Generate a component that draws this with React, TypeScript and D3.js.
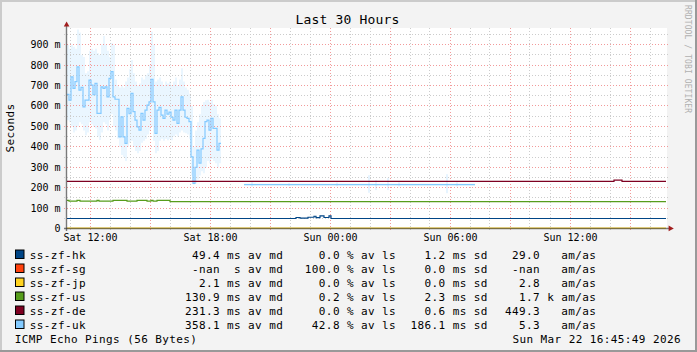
import React from 'react';
import * as d3 from 'd3';

const W = 697;
const H = 352;

const parse = d3.timeParse('%Y-%m-%dT%H:%M');
const START = '2026-03-21T10:51';
const END = '2026-03-22T16:51';
const SERIES_END = '2026-03-22T16:48';

const yMajor = [100, 200, 300, 400, 500, 600, 700, 800, 900];
const yMinor = [50, 150, 250, 350, 450, 550, 650, 750, 850, 950];
const yLabelValues = [0, 100, 200, 300, 400, 500, 600, 700, 800, 900];
const yLabels = ['0', '100 m', '200 m', '300 m', '400 m', '500 m', '600 m', '700 m', '800 m', '900 m'];
const xTickTimes = ['2026-03-21T12:00', '2026-03-21T18:00', '2026-03-22T00:00', '2026-03-22T06:00', '2026-03-22T12:00'];
const xTickLabels = ['Sat 12:00', 'Sat 18:00', 'Sun 00:00', 'Sun 06:00', 'Sun 12:00'];

// ss-zf-uk, first block: medians every 6 minutes (ms)
const ukAStart = '2026-03-21T10:51';
const ukAStepMin = 6;
const ukAMedian = [657, 629, 743, 686, 719, 792, 678, 691, 596, 629, 629, 727, 702, 655, 711, 564, 564, 694, 686, 694,
  645, 735, 768, 645, 633, 633, 449, 547, 449, 417, 588, 562, 662, 572, 531, 498, 482, 564, 531, 580,
  604, 620, 730, 620, 466, 580, 593, 555, 539, 580, 560, 570, 545, 531, 580, 515, 580, 645, 580, 545,
  539, 523, 351, 221, 300, 384, 320, 390, 441, 523, 531, 482, 539, 490, 490, 384, 417];
const ukASmokeHi = [900, 880, 900, 890, 880, 975, 960, 850, 840, 760, 770, 870, 880, 870, 880, 860, 850, 900, 943, 900,
  870, 840, 908, 900, 730, 700, 690, 700, 690, 720, 740, 780, 825, 760, 720, 700, 710, 740, 730, 750,
  760, 800, 965, 900, 720, 730, 740, 720, 700, 720, 710, 720, 700, 720, 740, 700, 730, 785, 720, 690,
  680, 660, 600, 400, 480, 520, 560, 600, 620, 628, 630, 620, 630, 610, 600, 560, 540];
const ukASmokeLo = [530, 520, 500, 470, 480, 500, 520, 510, 480, 457, 470, 520, 510, 500, 490, 450, 433, 470, 520, 510,
  480, 530, 560, 500, 480, 440, 400, 360, 350, 330, 400, 420, 430, 400, 380, 368, 380, 420, 430, 440,
  460, 480, 500, 430, 368, 380, 430, 440, 430, 440, 432, 440, 432, 450, 460, 450, 470, 480, 470, 466,
  460, 440, 260, 215, 221, 240, 260, 280, 270, 300, 330, 320, 340, 330, 320, 300, 320];

// ss-zf-uk, second block
const ukBStart = '2026-03-21T19:42';
const ukBEnd = '2026-03-22T07:15';
const ukBMedian = 215;
const ukBBand = [211, 220];
const ukBSpikeTimes = ['2026-03-21T20:03', '2026-03-21T21:54', '2026-03-22T00:18', '2026-03-22T01:54', '2026-03-22T02:15',
  '2026-03-22T02:51', '2026-03-22T03:24', '2026-03-22T05:48', '2026-03-22T06:18'];
const ukBSpikeLo = [205, 208, 207, 175, 188, 188, 206, 173, 206];
const ukBSpikeHi = [228, 222, 225, 261, 237, 247, 226, 266, 226];

const hkSteps: [string, number][] = [
  ['2026-03-21T10:51', 49], ['2026-03-21T22:18', 54], ['2026-03-21T22:30', 51], ['2026-03-21T22:54', 55],
  ['2026-03-21T23:12', 60], ['2026-03-21T23:18', 53], ['2026-03-21T23:30', 62], ['2026-03-21T23:42', 54],
  ['2026-03-21T23:57', 62], ['2026-03-22T00:03', 49]];
const usSteps: [string, number][] = [
  ['2026-03-21T10:51', 138], ['2026-03-21T10:57', 134], ['2026-03-21T11:21', 138], ['2026-03-21T11:30', 134],
  ['2026-03-21T12:21', 138], ['2026-03-21T12:27', 134], ['2026-03-21T13:09', 138], ['2026-03-21T13:51', 134],
  ['2026-03-21T14:21', 138], ['2026-03-21T14:51', 134], ['2026-03-21T15:03', 138], ['2026-03-21T15:09', 134],
  ['2026-03-21T15:21', 138], ['2026-03-21T16:00', 131.5]];
const deSteps: [string, number][] = [['2026-03-21T10:51', 231], ['2026-03-22T14:12', 237], ['2026-03-22T14:36', 231]];
const jpSteps: [string, number][] = [['2026-03-21T10:51', 2.1]];

const hostNames = ['ss-zf-hk', 'ss-zf-sg', 'ss-zf-jp', 'ss-zf-us', 'ss-zf-de', 'ss-zf-uk'];
const hostColors = ['#004586', '#ff420e', '#ffd320', '#579d1c', '#7e0021', '#83caff'];
const avMedian = ['49.4', '-nan', '2.1', '130.9', '231.3', '358.1'];
const avMedianPrefix = ['m', ' ', 'm', 'm', 'm', 'm'];
const avLoss = ['0.0', '100.0', '0.0', '0.2', '0.0', '42.8'];
const avSd = ['1.2', '0.0', '0.0', '2.3', '0.6', '186.1'];
const amas = ['29.0', '-nan', '2.8', '1.7', '449.3', '5.3'];
const amasPrefix = [' ', ' ', ' ', 'k', ' ', ' '];

const MONO = '"DejaVu Sans Mono", monospace';

export default function App() {
  const t0 = parse(START)!;
  const t1 = parse(END)!;
  const x = d3.scaleTime().domain([t0, t1]).range([67, 667]);
  const y = d3.scaleLinear().domain([0, 982]).range([228.5, 28]);
  const addMin = (d: Date, m: number) => new Date(d.getTime() + m * 60000);
  const crisp = (v: number) => Math.floor(v) + 0.5;

  type P = { t: Date; v: number; hi?: number; lo?: number };
  const line = d3.line<P>().x(d => x(d.t)).y(d => y(d.v)).curve(d3.curveStepAfter);
  const area = d3.area<P>().x(d => x(d.t)).y0(d => y(d.lo!)).y1(d => y(d.hi!)).curve(d3.curveStepAfter);

  const ukStart = parse(ukAStart)!;
  const ukA: P[] = ukAMedian.map((v, i) => ({ t: addMin(ukStart, i * ukAStepMin), v, hi: ukASmokeHi[i], lo: ukASmokeLo[i] }));
  const lastA = ukA[ukA.length - 1];
  ukA.push({ ...lastA, t: addMin(ukStart, ukAMedian.length * ukAStepMin) });

  const bS = parse(ukBStart)!;
  const bE = parse(ukBEnd)!;
  const ukB: P[] = [{ t: bS, v: ukBMedian, lo: ukBBand[0], hi: ukBBand[1] }, { t: bE, v: ukBMedian, lo: ukBBand[0], hi: ukBBand[1] }];

  const stepPts = (steps: [string, number][]): P[] => {
    const pts = steps.map(([t, v]) => ({ t: parse(t)!, v }));
    pts.push({ t: parse(SERIES_END)!, v: steps[steps.length - 1][1] });
    return pts;
  };

  const hours = d3.timeHour.range(addMin(t0, 1), t1);

  const legendY0 = 258.5;
  const rowH = 14;
  const legStyle: React.CSSProperties = { fontFamily: MONO, fontSize: 11, letterSpacing: 0.4, whiteSpace: 'pre' };
  const minorC = '#cccccc';
  const majorC = '#f29a9a';

  return (
    <svg width={W} height={H} style={{ position: 'absolute', left: 0, top: 0 }} xmlns="http://www.w3.org/2000/svg">
      <rect x={0} y={0} width={W} height={H} fill="#f3f3f3" />
      <rect x={0} y={0} width={W} height={2} fill="#cbcbcb" />
      <rect x={0} y={0} width={2} height={H} fill="#cbcbcb" />
      <rect x={0} y={H - 2} width={W} height={2} fill="#999999" />
      <rect x={W - 2} y={0} width={2} height={H} fill="#999999" />

      <rect x={67} y={28} width={600} height={200.5} fill="#ffffff" />

      {/* smoke */}
      <path d={area(ukA)!} fill="#83caff" fillOpacity={0.17} />
      <path d={area(ukB)!} fill="#83caff" fillOpacity={0.12} />
      {ukBSpikeTimes.map((ts, i) => {
        const t = parse(ts)!;
        return <rect key={ts} x={x(t)} width={x(addMin(t, ukAStepMin)) - x(t)} y={y(ukBSpikeHi[i])} height={y(ukBSpikeLo[i]) - y(ukBSpikeHi[i])} fill="#83caff" fillOpacity={0.2} />;
      })}

      {/* grid */}
      {yMinor.map(v => (
        <line key={'ym' + v} x1={64} x2={669} y1={crisp(y(v))} y2={crisp(y(v))} stroke={minorC} strokeDasharray="1,2" />
      ))}
      {hours.filter(h => h.getHours() % 3 !== 0).map(h => (
        <line key={'xm' + h.getTime()} x1={crisp(x(h))} x2={crisp(x(h))} y1={28} y2={231} stroke={minorC} strokeDasharray="1,2" />
      ))}
      {yMajor.map(v => (
        <line key={'yM' + v} x1={64} x2={669} y1={crisp(y(v))} y2={crisp(y(v))} stroke={majorC} strokeDasharray="1,2" />
      ))}
      {hours.filter(h => h.getHours() % 3 === 0).map(h => (
        <line key={'xM' + h.getTime()} x1={crisp(x(h))} x2={crisp(x(h))} y1={28} y2={231} stroke={majorC} strokeDasharray="1,2" />
      ))}

      {/* lines */}
      <path d={line(ukA)!} fill="none" stroke={hostColors[5]} strokeWidth={1.2} />
      <path d={line(ukB)!} fill="none" stroke={hostColors[5]} strokeWidth={1.4} />
      <path d={line(stepPts(hkSteps))!} fill="none" stroke={hostColors[0]} strokeWidth={1.2} />
      <path d={line(stepPts(usSteps))!} fill="none" stroke={hostColors[3]} strokeWidth={1.2} />
      <path d={line(stepPts(deSteps))!} fill="none" stroke={hostColors[4]} strokeWidth={1.2} />
      <path d={line(stepPts(jpSteps))!} fill="none" stroke={hostColors[2]} strokeWidth={1.2} />

      {/* axes */}
      <line x1={66.5} x2={66.5} y1={24} y2={231} stroke="rgba(40,40,40,0.6)" strokeWidth={1.4} />
      <line x1={64} x2={669} y1={228.5} y2={228.5} stroke="rgba(40,40,40,0.6)" strokeWidth={1.4} />
      <polygon points="63.8,26.6 69.4,26.6 66.6,21.6" fill="#a11d1d" />
      <polygon points="668.6,225.6 668.6,231.2 673.8,228.4" fill="#a11d1d" />

      {/* y labels */}
      {yLabelValues.map((v, i) => (
        <text key={'yl' + v} x={60.5} y={crisp(y(v)) + 3.4} textAnchor="end" style={{ fontFamily: MONO, fontSize: 10 }} fill="#000">{yLabels[i]}</text>
      ))}
      {/* x labels */}
      {xTickTimes.map((ts, i) => (
        <text key={ts} x={crisp(x(parse(ts)!))} y={241} textAnchor="middle" style={{ fontFamily: MONO, fontSize: 10 }} fill="#000">{xTickLabels[i]}</text>
      ))}

      <text x={347.5} y={24} textAnchor="middle" style={{ fontFamily: MONO, fontSize: 13, letterSpacing: 0.17 }} fill="#000">Last 30 Hours</text>
      <text transform="translate(14,128) rotate(-90)" textAnchor="middle" style={{ fontFamily: MONO, fontSize: 11, letterSpacing: 0.4 }} fill="#000">Seconds</text>
      <text transform="translate(685,5) rotate(90)" style={{ fontFamily: MONO, fontSize: 8, letterSpacing: 0.1 }} fill="#b0b0b0">RRDTOOL / TOBI OETIKER</text>

      {/* legend */}
      {hostNames.map((n, i) => {
        const by = legendY0 + i * rowH;
        return (
          <g key={n}>
            <rect x={15.5} y={by - 8.5} width={8.5} height={8.5} fill={hostColors[i]} stroke="#000" strokeWidth={1} />
            <text x={29.8} y={by} style={legStyle} fill="#000">{n}</text>
            <text x={184.9} y={by} style={legStyle} fill="#000">{`${avMedian[i].padStart(5)} ${avMedianPrefix[i]}s av md`}</text>
            <text x={304.8} y={by} style={legStyle} fill="#000">{`${avLoss[i].padStart(5)} % av ls`}</text>
            <text x={410.5} y={by} style={legStyle} fill="#000">{`${avSd[i].padStart(5)} ms sd`}</text>
            <text x={505} y={by} style={legStyle} fill="#000">{`${amas[i].padStart(5)} ${amasPrefix[i]} am/as`}</text>
          </g>
        );
      })}
      <text x={14.8} y={legendY0 + 6 * rowH} style={legStyle} fill="#000">ICMP Echo Pings (56 Bytes)</text>
      <text x={681} y={legendY0 + 6 * rowH} textAnchor="end" style={legStyle} fill="#000">Sun Mar 22 16:45:49 2026</text>
    </svg>
  );
}
